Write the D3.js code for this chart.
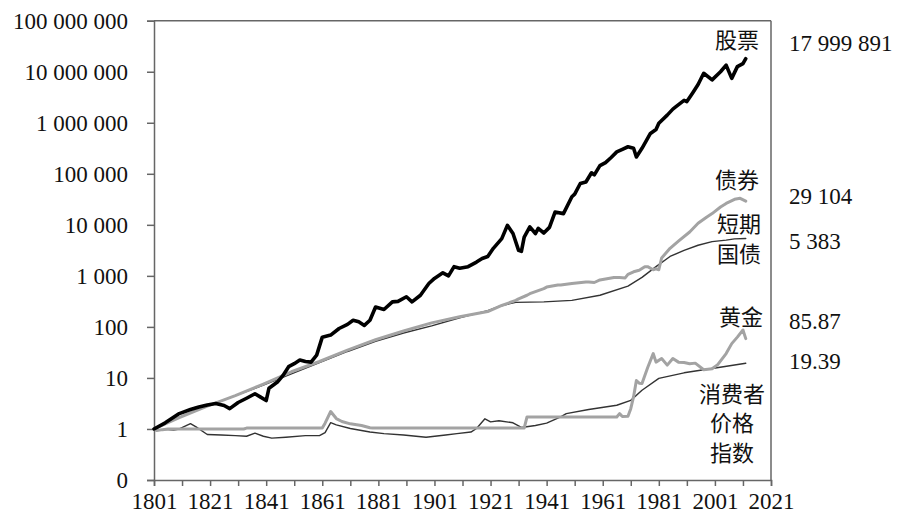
<!DOCTYPE html>
<html><head><meta charset="utf-8">
<script src="https://cdn.jsdelivr.net/npm/d3@7/dist/d3.min.js"></script>
<style>
body{margin:0;background:#fff;}
svg{display:block;}
.num{font-family:"Liberation Serif","DejaVu Serif","Times New Roman",serif;}
.cjk{font-family:"Noto Sans CJK SC","Noto Sans CJK JP",sans-serif;}
</style></head>
<body>
<svg id="chart" width="900" height="520"></svg>
<script>
// ---- data ----
const stockYears = [1801,1805,1810,1814,1817,1820,1823,1826,1828,1831,1834,1837,1839,1841,1842,1845,1847,1849,1851,1853,1855,1857,1859,1861,1864,1867,1870,1872,1874,1876,1878,1880,1883,1886,1888,1891,1893,1896,1899,1901,1904,1906,1908,1910,1913,1916,1918,1920,1922,1925,1927,1929,1931,1932,1933,1935,1937,1938,1940,1942,1944,1947,1950,1951,1953,1955,1957,1958,1960,1962,1964,1966,1968,1970,1972,1973,1975,1978,1980,1981,1984,1986,1987,1990,1991,1993,1995,1997,2000,2003,2005,2007,2009,2011,2012];
const stockValues = [1,1.32,2.0,2.4,2.7,2.95,3.16,2.88,2.5,3.3,4.0,4.9,4.2,3.6,6.3,8.3,11.2,16.6,19,22.4,21,20.4,28,63,69,93,112,135,126,107,135,245,219,309,316,389,309,417,708,891,1148,1000,1514,1413,1514,1862,2188,2399,3467,5370,9772,6761,3162,3020,5754,9120,6761,8511,6918,8913,17783,16596,35481,40000,64565,69183,104713,95000,144544,165959,208930,269153,301995,338844,316228,213796,316228,616595,740000,977237,1412538,1850000,2041738,2754229,2600000,3801894,5623413,9332543,6918310,10000000,13489629,7413102,12589254,14454398,17999891];

const bondYears = [1801,1810,1820,1830,1840,1850,1860,1870,1880,1890,1900,1910,1920,1925,1930,1931,1934,1935,1940,1941,1945,1946,1950,1955,1956,1958,1960,1962,1965,1967,1969,1970,1972,1974,1976,1977,1979,1980,1981,1982,1985,1988,1992,1995,1998,2000,2003,2005,2008,2010,2012];
const bondValues = [1,1.66,2.8,4.5,7.6,13.2,21,35,56,83,120,158,200,263,331,355,417,447,562,603,661,661,708,759,759,741,832,871,933,933,912,1072,1202,1288,1514,1514,1318,1380,1318,2239,3467,4786,7244,10715,14125,16596,22387,26303,31623,33113,29104];

const billYears = [1801,1810,1820,1830,1840,1850,1860,1870,1880,1890,1900,1910,1920,1925,1930,1940,1950,1960,1970,1975,1980,1985,1990,1995,2000,2005,2008,2012];
const billValues = [1,1.7,2.8,4.5,7.2,12,20,33,52,76,105,151,209,263,302,309,331,417,631,933,1514,2399,3162,3981,4677,5012,5300,5383];

const goldYears = [1801,1802,1804,1806,1833,1834,1861,1862,1864,1866,1868,1871,1875,1878,1879,1933,1934,1966,1967,1968,1970,1971,1972,1973,1974,1975,1977,1979,1980,1982,1984,1986,1988,1990,1992,1994,1997,2000,2002,2005,2007,2009,2011,2012];
const goldValues = [1,0.93,0.97,1,1,1.04,1.04,1.3,2.2,1.6,1.4,1.26,1.17,1.06,1.04,1.04,1.72,1.72,2.0,1.75,1.78,2.5,4.3,8.9,7.9,7.8,15.8,30,20.4,24,17.8,24,20.4,20,19,19.5,14.5,15.1,18.2,30,47,63,87,59];

const cpiYears = [1801,1803,1805,1808,1810,1814,1816,1820,1825,1830,1834,1837,1840,1843,1848,1855,1860,1862,1864,1866,1871,1878,1883,1890,1898,1905,1909,1914,1916,1919,1921,1924,1929,1932,1937,1941,1946,1948,1956,1966,1971,1975,1981,1990,1997,2004,2012];
const cpiValues = [1,0.96,0.98,0.95,1.0,1.27,1.1,0.78,0.76,0.74,0.72,0.83,0.72,0.66,0.69,0.74,0.74,0.85,1.33,1.2,1.02,0.87,0.81,0.76,0.69,0.76,0.81,0.87,1.02,1.58,1.38,1.45,1.32,1.07,1.17,1.3,1.72,2.0,2.4,2.92,3.63,5.75,9.8,12.6,14.5,16.6,19.39];

const yTickValues = [0.1,1,10,100,1000,10000,100000,1000000,10000000,100000000];
const yTickLabels = ["0","1","10","100","1 000","10 000","100 000","1 000 000","10 000 000","100 000 000"];
const xTickValues = [1801,1811,1821,1831,1841,1851,1861,1871,1881,1891,1901,1911,1921,1931,1941,1951,1961,1971,1981,1991,2001,2011,2021];
const xLabelYears = [1801,1821,1841,1861,1881,1901,1921,1941,1961,1981,2001,2021];

const seriesNames = ["股票","债券","短期国债","黄金","消费者价格指数"];
const endLabels = ["17 999 891","29 104","5 383","85.87","19.39"];

// ---- layout ----
const svg = d3.select("#chart");
const L = 154, R = 771, T = 20.7, B = 480;
const x = d3.scaleLinear().domain([1801, 2021]).range([L, R]);
const y = d3.scaleLog().domain([0.1, 1e8]).range([B, T]);

const axisColor = "#666";

// frame top & right
svg.append("line").attr("x1", L).attr("x2", R).attr("y1", T).attr("y2", T)
  .attr("stroke", axisColor).attr("stroke-width", 1.5);
svg.append("line").attr("x1", R).attr("x2", R).attr("y1", T).attr("y2", B)
  .attr("stroke", axisColor).attr("stroke-width", 1.5);

// y axis
const yAxis = d3.axisLeft(y).tickValues(yTickValues)
  .tickFormat((d, i) => yTickLabels[i]).tickSize(7).tickPadding(19);
const gy = svg.append("g").attr("transform", `translate(${L},0)`).call(yAxis)
  .attr("font-family", null).attr("font-size", null);
gy.select(".domain").attr("stroke", axisColor).attr("stroke-width", 1.5);
gy.selectAll(".tick line").attr("stroke", axisColor).attr("stroke-width", 1.5);
gy.selectAll(".tick text").attr("class", "num").style("font-size", "23px")
  .attr("fill", "#111").attr("dy", "0.34em");

// x axis
const xAxis = d3.axisBottom(x).tickValues(xTickValues)
  .tickFormat(d => xLabelYears.includes(d) ? String(d) : "").tickSize(6).tickPadding(7);
const gx = svg.append("g").attr("transform", `translate(0,${B})`).call(xAxis)
  .attr("font-family", null).attr("font-size", null);
gx.select(".domain").attr("stroke", axisColor).attr("stroke-width", 1.5);
gx.selectAll(".tick line").attr("stroke", axisColor).attr("stroke-width", 1.5);
gx.selectAll(".tick text").attr("class", "num").style("font-size", "23px")
  .attr("fill", "#111");

// lines
const line = d3.line().x(d => x(d[0])).y(d => y(d[1])).curve(d3.curveLinear);
function zip(a, b){ return a.map((v, i) => [v, b[i]]); }
const series = [
  {data: zip(cpiYears, cpiValues), color: "#333", w: 1.4},
  {data: zip(goldYears, goldValues), color: "#a3a3a3", w: 3},
  {data: zip(billYears, billValues), color: "#333", w: 1.4},
  {data: zip(bondYears, bondValues), color: "#a3a3a3", w: 3},
  {data: zip(stockYears, stockValues), color: "#000", w: 3.6}
];
svg.append("g").selectAll("path").data(series).join("path")
  .attr("d", d => line(d.data)).attr("fill", "none")
  .attr("stroke", d => d.color).attr("stroke-width", d => d.w)
  .attr("stroke-linejoin", "round").attr("stroke-linecap", "round");

// series name annotations
const nameLines = [
  {t: ["股票"], cx: 737, cy: [38]},
  {t: ["债券"], cx: 737, cy: [178]},
  {t: ["短期", "国债"], cx: 739, cy: [222, 252]},
  {t: ["黄金"], cx: 741, cy: [315]},
  {t: ["消费者", "价格", "指数"], cx: 732, cy: [392, 421, 451]}
];
nameLines.forEach(n => {
  n.t.forEach((s, i) => {
    svg.append("text").attr("class", "cjk").attr("x", n.cx).attr("y", n.cy[i])
      .attr("text-anchor", "middle").attr("dominant-baseline", "central")
      .style("font-size", "22px").attr("fill", "#111").text(s);
  });
});

// end value annotations
const endY = [43, 196, 241, 321, 361];
endLabels.forEach((s, i) => {
  svg.append("text").attr("class", "num").attr("x", 789).attr("y", endY[i]).attr("dy", "0.34em")
    .style("font-size", "23px").attr("fill", "#111").text(s);
});
</script>
</body></html>
